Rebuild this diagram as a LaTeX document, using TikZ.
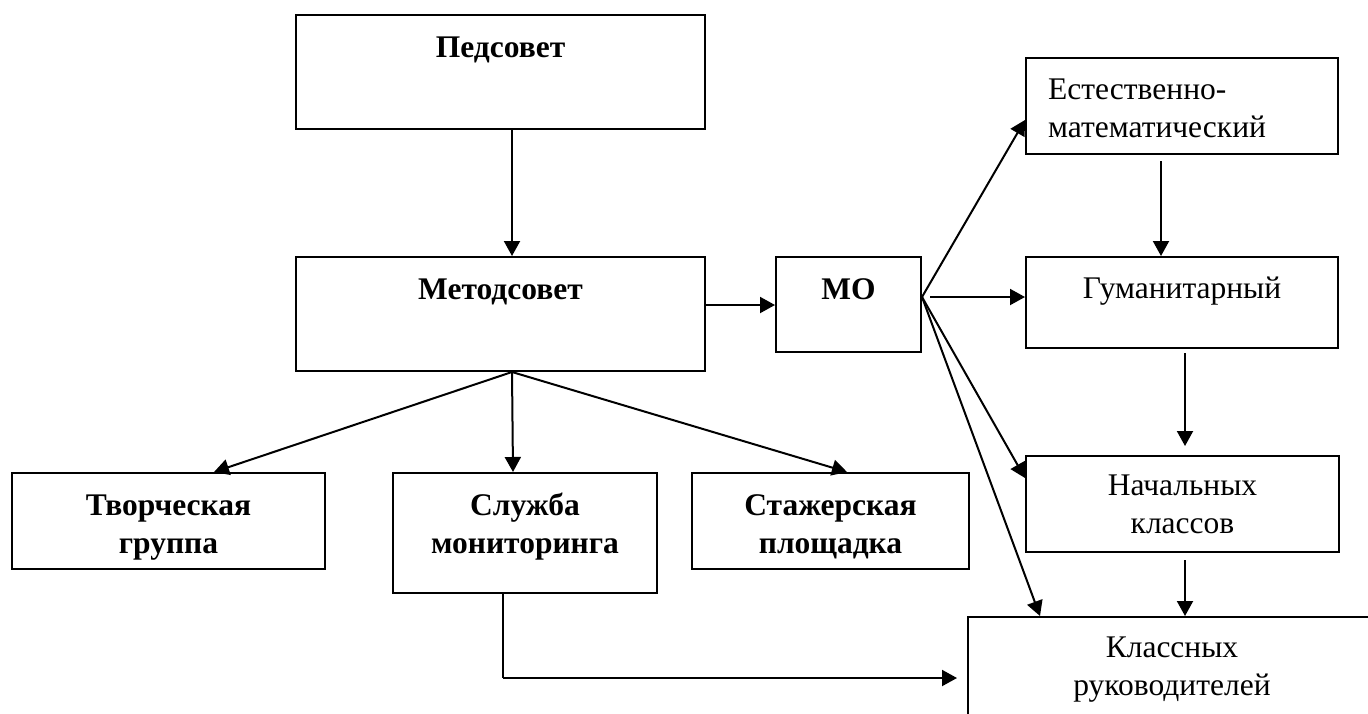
\documentclass[tikz,border=0pt]{standalone}
\usepackage{fontspec}
\setmainfont{Liberation Serif}
\usetikzlibrary{arrows.meta}
\begin{document}
\begin{tikzpicture}[x=1pt,y=-1pt,
  box/.style={draw, line width=2pt, inner sep=0pt, rectangle},
  lbl/.style={inner sep=0pt, anchor=base, font=\fontsize{31.5}{38}\selectfont, align=center},
  lbll/.style={inner sep=0pt, anchor=base west, font=\fontsize{31.5}{38}\selectfont},
  arr/.style={line width=2pt, -{Triangle[length=15pt,width=16pt]}},
  ln/.style={line width=2pt}]
\useasboundingbox (0,0) rectangle (1368,713);
\clip (0,0) rectangle (1368,713);
% boxes
\node[box, minimum width=409pt, minimum height=114pt] (ped) at (500.5,72) {};
\node[box, minimum width=409pt, minimum height=114pt] (met) at (500.5,314) {};
\node[box, minimum width=145pt, minimum height=95pt] (mo) at (848.5,304.5) {};
\node[box, minimum width=312pt, minimum height=96pt] (est) at (1182,106) {};
\node[box, minimum width=312pt, minimum height=91pt] (gum) at (1182,302.5) {};
\node[box, minimum width=313pt, minimum height=96pt] (nach) at (1182.5,504) {};
\node[box, minimum width=408pt, minimum height=130pt] (kl) at (1172,682) {};
\node[box, minimum width=313pt, minimum height=96pt] (tvor) at (168.5,521) {};
\node[box, minimum width=264pt, minimum height=120pt] (sluz) at (525,533) {};
\node[box, minimum width=277pt, minimum height=96pt] (staz) at (830.5,521) {};
% texts
\node[lbl] (tped) at (500.5,57) {\bfseries Педсовет};
\node[lbl] (tmet) at (500.5,299) {\bfseries Методсовет};
\node[lbl] (tmo) at (848.5,299) {\bfseries МО};
\node[lbll] (test1) at (1048,99) {Естественно-};
\node[lbll] (test2) at (1048,137) {математический};
\node[lbl] (tgum) at (1182,298) {Гуманитарный};
\node[lbl] (tnach1) at (1182.5,495) {Начальных};
\node[lbl] (tnach2) at (1182.5,533) {классов};
\node[lbl] (tkl1) at (1172,657) {Классных};
\node[lbl] (tkl2) at (1172,695) {руководителей};
\node[lbl] (ttvor1) at (168.5,515) {\bfseries Творческая};
\node[lbl] (ttvor2) at (168.5,553) {\bfseries группа};
\node[lbl] (tsluz1) at (525,515) {\bfseries Служба};
\node[lbl] (tsluz2) at (525,553) {\bfseries мониторинга};
\node[lbl] (tstaz1) at (830.5,515) {\bfseries Стажерская};
\node[lbl] (tstaz2) at (830.5,553) {\bfseries площадка};
% connectors
\coordinate (metb) at (met.south -| 512,0);
\coordinate (mofan) at (mo.east |- 0,297);
\draw[arr] (ped.south -| 512,0) -- (met.north -| 512,0);
\draw[arr] (met.east |- 0,305) -- (mo.west |- 0,305);
\draw[arr] (mofan) -- (est.west |- 0,120);
\draw[arr] ([xshift=8pt]mofan) -- (gum.west |- 0,297);
\draw[arr] (mofan) -- (nach.west |- 0,478);
\draw[arr] (mofan) -- (kl.north -| 1040,0);
\draw[arr, shorten <=6pt] (est.south -| 1161,0) -- (gum.north -| 1161,0);
\draw[arr, shorten <=4pt, shorten >=9pt] (gum.south -| 1185,0) -- (nach.north -| 1185,0);
\draw[arr] ([yshift=-7pt]nach.south -| 1185,0) -- (kl.north -| 1185,0);
\draw[arr] (metb) -- (tvor.north -| 214,0);
\draw[arr] (metb) -- (sluz.north -| 513,0);
\draw[arr] (metb) -- (staz.north -| 847,0);
\draw[ln] (sluz.south -| 503,0) -- (503,678) coordinate (corner);
\draw[arr, shorten >=10pt] (corner) -- (kl.west |- corner);
\end{tikzpicture}
\end{document}
